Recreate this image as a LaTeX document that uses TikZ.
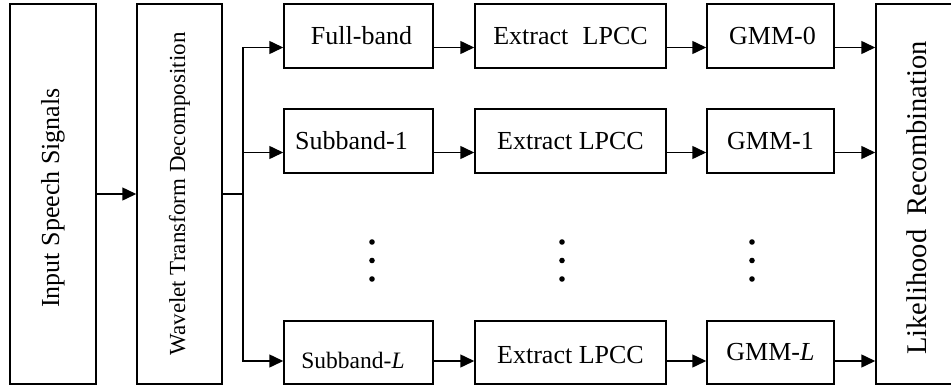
\documentclass[tikz,border=0pt]{standalone}
\usepackage{fontspec}
\setmainfont{Liberation Serif}
\usetikzlibrary{arrows.meta}

\begin{document}
\begin{tikzpicture}[x=1pt,y=-1pt,
  box/.style={draw, line width=1.5pt, inner sep=0pt,
    font=\fontsize{26}{30}\selectfont},
  tall/.style={box, rotate=90, minimum width=380pt},
  rowbox/.style={box, minimum height=64pt},
  bandbox/.style={rowbox, minimum width=149pt},
  lpccbox/.style={rowbox, minimum width=191pt},
  gmmbox/.style={rowbox, minimum width=127pt},
  arr/.style={line width=1.5pt, -{Triangle[length=14pt,width=13pt]}},
  wire/.style={line width=1.5pt},
  vdot/.style={circle, fill, inner sep=0pt, minimum size=5.6pt}]

\useasboundingbox (0,0) rectangle (951,388);
\clip (0,0) rectangle (951,388);

% row levels of the connectors and the branching column
\coordinate (r0) at (0,47.5);
\coordinate (r1) at (0,152.5);
\coordinate (rL) at (0,361);
\coordinate (bx) at (243,0);

% tall stages
\node[tall, minimum height=86pt] (in) at (53,194)
  {Input Speech Signals\hspace*{8pt}};
\node[tall, minimum height=85pt, font=\fontsize{23}{27}\selectfont] (wt) at (179.5,194)
  {Wavelet Transform Decomposition};
\node[tall, minimum height=82pt, font=\fontsize{28.5}{33}\selectfont] (lr) at (917,194)
  {Likelihood\ \ Recombination\hspace*{8pt}};

% band boxes
\node[bandbox] (fb) at (358.5,36) {\hspace*{6pt}Full-band};
\node[bandbox] (s1) at (358.5,141) {Subband-1\hspace*{14pt}};
\node[bandbox, minimum height=63pt, font=\fontsize{23.5}{28}\selectfont,
  text height=31pt, text depth=0pt] (sL) at (358.5,352.5) {Subband-\textit{L}\hspace*{11pt}};

% feature extraction
\node[lpccbox] (e0) at (570.5,36) {Extract\hspace{0.55em}LPCC};
\node[lpccbox] (e1) at (570.5,141) {Extract LPCC};
\node[lpccbox, minimum height=63pt, text height=22pt, text depth=0pt] (eL) at (570.5,352.5) {Extract LPCC};

% models
\node[gmmbox] (g0) at (770.5,36) {\hspace*{4pt}GMM-0};
\node[gmmbox] (g1) at (770.5,141) {GMM-1};
\node[gmmbox, minimum height=63pt] (gL) at (770.5,352.5) {GMM-\textit{L}};

% vertical ellipses between the rows
\node[vdot] (da1) at (372,242) {};
\node[vdot] (da2) at (372,260.5) {};
\node[vdot] (da3) at (372,279) {};
\node[vdot] (db1) at (562,242) {};
\node[vdot] (db2) at (562,260.5) {};
\node[vdot] (db3) at (562,279) {};
\node[vdot] (dc1) at (752,242) {};
\node[vdot] (dc2) at (752,260.5) {};
\node[vdot] (dc3) at (752,279) {};

% input to decomposition
\draw[arr] (in.south) -- (wt.north);

% branching to the bands
\draw[arr] (wt.south) -- (bx |- wt.south) |- (fb.west |- r0);
\draw[arr] (bx |- wt.south) |- (s1.west |- r1);
\draw[arr] (bx |- wt.south) |- (sL.west |- rL);

% rows
\draw[arr] (fb.east |- r0) -- (e0.west |- r0);
\draw[arr] (e0.east |- r0) -- (g0.west |- r0);
\draw[arr] (g0.east |- r0) -- (lr.north |- r0);

\draw[arr] (s1.east |- r1) -- (e1.west |- r1);
\draw[arr] (e1.east |- r1) -- (g1.west |- r1);
\draw[arr] (g1.east |- r1) -- (lr.north |- r1);

\draw[arr] (sL.east |- rL) -- (eL.west |- rL);
\draw[arr] (eL.east |- rL) -- (gL.west |- rL);
\draw[arr] (gL.east |- rL) -- (lr.north |- rL);
\end{tikzpicture}
\end{document}
